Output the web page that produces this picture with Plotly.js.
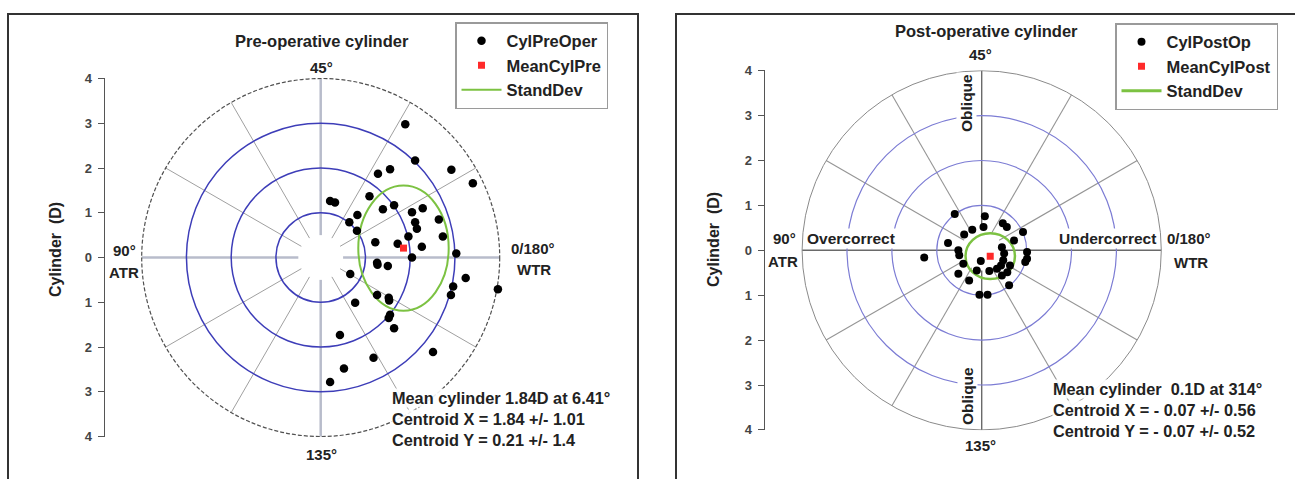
<!DOCTYPE html>
<html>
<head>
<meta charset="utf-8">
<script src="https://cdn.plot.ly/plotly-3.0.1.min.js"></script>
<style>html,body{margin:0;padding:0;background:#fff;}#chart{width:1295px;height:479px;}</style>
</head>
<body>
<div id="chart"></div>
<script>
// ---------------- DATA ----------------
// Pre-operative cylinder (double-angle plot, dioptres)
const preX = [1.89,2.11,2.92,3.40,1.28,1.55,1.09,0.21,0.32,0.82,1.39,1.64,2.04,2.28,0.64,2.11,2.15,2.64,0.81,2.73,1.96,1.22,1.72,2.26,2.04,3.03,1.26,1.27,1.50,0.66,3.24,2.96,2.91,3.96,1.26,1.52,1.53,0.77,1.52,1.55,1.64,0.43,2.51,1.18,0.52,0.21];
const preY = [2.98,2.17,1.96,1.66,1.87,1.97,1.37,1.26,1.23,0.95,1.08,1.17,1.01,1.10,0.79,0.79,0.64,0.85,0.60,0.47,0.47,0.34,0.31,0.24,0.00,0.09,-0.12,-0.16,-0.19,-0.37,-0.46,-0.65,-0.84,-0.71,-0.84,-0.90,-0.96,-1.01,-1.35,-1.28,-1.58,-1.73,-2.11,-2.24,-2.48,-2.78];
const preMeanX = [1.85];
const preMeanY = [0.21];
const preSdX = [1.01];
const preSdY = [1.40];

// Post-operative cylinder
const postX = [-0.60,0.07,0.04,-0.21,-0.39,0.47,0.56,0.92,0.72,-0.75,-0.52,-0.50,-0.41,-0.52,-0.28,-0.11,-0.02,0.45,0.50,0.48,0.43,0.34,0.17,0.63,0.57,0.45,0.61,1.01,1.01,0.97,-0.05,0.13,-1.28];
const postY = [0.81,0.76,0.52,0.46,0.35,0.60,0.52,0.41,0.22,0.16,0.00,-0.11,-0.30,-0.52,-0.67,-0.45,-0.24,0.07,-0.07,-0.22,-0.34,-0.41,-0.46,-0.34,-0.49,-0.56,-0.78,-0.04,-0.19,-0.26,-0.99,-0.99,-0.16];
const postMeanX = [0.19];
const postMeanY = [-0.13];
const postSdX = [0.55];
const postSdY = [0.51];

// Axis / grid definitions
const tickVals = [-4,-3,-2,-1,0,1,2,3,4];
const tickText = ['4','3','2','1','0','1','2','3','4'];
const yLimit = 4;
const ringRadii = [1,2,3];
const outerRadius = [4];
const spokeAngles = [0,30,60,90,120,150,180,210,240,270,300,330];

// Text
const preStats = ['Mean cylinder 1.84D at 6.41°','Centroid X = 1.84 +/- 1.01','Centroid Y = 0.21 +/- 1.4'];
const postStats = ['Mean cylinder  0.1D at 314°','Centroid X = - 0.07 +/- 0.56','Centroid Y = - 0.07 +/- 0.52'];

// ---------------- LAYOUT HELPERS ----------------
const W = 1295, H = 479;
const FONT = 'Liberation Sans, Arial, sans-serif';
const px = v => v / W;
const py = v => (H - v) / H;
const F = (size, extra) => Object.assign({ family: FONT, size: size, color: '#222', weight: 'bold' }, extra || {});

function axesFor(cx, cy, s, xl, xr) {
  const lim = yLimit + 0.01;
  const yt = cy - lim * s, yb = cy + lim * s;
  return {
    x: { domain: [px(xl), px(xr)], range: [(xl - cx) / s, (xr - cx) / s], visible: false, fixedrange: true },
    y: { domain: [py(yb), py(yt)], range: [-lim, lim], fixedrange: true,
         tickvals: tickVals, ticktext: tickText, showline: true, linecolor: '#555', linewidth: 1.5,
         ticks: 'outside', ticklen: 6, tickcolor: '#555', showgrid: false, zeroline: false,
         ticklabelstandoff: 3,
         tickfont: F(13, { color: '#444' }) }
  };
}

const A1 = axesFor(320.7, 257.5, 44.75, 105, 632);
const A2 = axesFor(981.7, 250.3, 44.9, 765, 1290);

const shapes = [];
function ring(xr, yr, r, line) {
  shapes.push({ type: 'circle', xref: xr, yref: yr, x0: -r, x1: r, y0: -r, y1: r, line: line, layer: 'below' });
}
function spokes(xr, yr, r0, r1, thin, thick) {
  spokeAngles.forEach(a => {
    const t = a * Math.PI / 180;
    const cardinal = a % 90 === 0;
    shapes.push({ type: 'line', xref: xr, yref: yr,
      x0: r0 * Math.cos(t), y0: r0 * Math.sin(t), x1: r1 * Math.cos(t), y1: r1 * Math.sin(t),
      line: cardinal ? thick : thin, layer: 'below' });
  });
}
function ellipse(xr, yr, cx, cy, sx, sy, w) {
  shapes.push({ type: 'circle', xref: xr, yref: yr, x0: cx - sx, x1: cx + sx, y0: cy - sy, y1: cy + sy,
    line: { color: '#7cc242', width: w }, layer: 'below' });
}

// Left panel grid
spokes('x', 'y', 0.5, outerRadius[0], { color: '#a0a0a0', width: 1 }, { color: '#b8bccb', width: 2.5 });
ringRadii.forEach(r => ring('x', 'y', r, { color: '#3d3db8', width: 1.5 }));
outerRadius.forEach(r => ring('x', 'y', r, { color: '#505050', width: 1.2, dash: '4px,2px' }));
ellipse('x', 'y', preMeanX[0], preMeanY[0], preSdX[0], preSdY[0], 2);

// Right panel grid
spokes('x2', 'y2', 0.45, outerRadius[0], { color: '#959595', width: 1.1 }, { color: '#6a6a6a', width: 1.4 });
ringRadii.forEach(r => ring('x2', 'y2', r, { color: '#7c7cd4', width: 1.2 }));
outerRadius.forEach(r => ring('x2', 'y2', r, { color: '#8a8a8a', width: 1 }));
ellipse('x2', 'y2', postMeanX[0], postMeanY[0], postSdX[0], postSdY[0], 2.5);

// Panel frames
shapes.push({ type: 'rect', xref: 'paper', yref: 'paper', x0: px(8), x1: px(638), y0: py(490), y1: py(14), line: { color: '#333', width: 2 } });
shapes.push({ type: 'rect', xref: 'paper', yref: 'paper', x0: px(676), x1: px(1300), y0: py(490), y1: py(14), line: { color: '#333', width: 2 } });

// ---------------- ANNOTATIONS ----------------
const ann = [];
function txt(text, x, y, opts) {
  ann.push(Object.assign({ text: text, xref: 'paper', yref: 'paper', x: px(x), y: py(y), showarrow: false,
    xanchor: 'center', yanchor: 'middle', font: F(15) }, opts || {}));
}
// left
txt('Pre-operative cylinder', 322, 41, { font: F(16.5) });
txt('45°', 321, 67);
txt('135°', 321, 454);
txt('90°', 124, 250);
txt('ATR', 124, 272);
txt('0/180°', 533, 248);
txt('WTR', 534, 270);
txt('Cylinder  (D)', 55, 250, { textangle: -90, font: F(16) });
preStats.forEach((s, i) => txt(s, 391, 398 + i * 21, { xanchor: 'left', bgcolor: 'rgba(255,255,255,0.9)', borderpad: 0, font: F(16.3) }));
// right
txt('Post-operative cylinder', 986, 31, { font: F(16.5) });
txt('45°', 980, 55);
txt('135°', 980, 445);
txt('90°', 784, 238);
txt('ATR', 783, 261);
txt('0/180°', 1189, 238);
txt('WTR', 1191, 262);
txt('Overcorrect', 851, 238, { bgcolor: '#fff', borderpad: 1, font: F(15.5) });
txt('Undercorrect', 1107, 238, { bgcolor: '#fff', borderpad: 1, font: F(15.5) });
txt('Oblique', 967, 103, { textangle: -90, bgcolor: '#fff', borderpad: 1, font: F(15.5) });
txt('Oblique', 967, 396, { textangle: -90, bgcolor: '#fff', borderpad: 1, font: F(15.5) });
txt('Cylinder  (D)', 713, 240, { textangle: -90, font: F(16) });
postStats.forEach((s, i) => txt(s, 1052, 389 + i * 21, { xanchor: 'left', bgcolor: 'rgba(255,255,255,0.9)', borderpad: 0, font: F(16.3) }));

// ---------------- TRACES ----------------
const traces = [
  { type: 'scatter', mode: 'markers', x: preX, y: preY, xaxis: 'x', yaxis: 'y', name: 'CylPreOper', legend: 'legend',
    marker: { color: '#000', size: 8.5 }, cliponaxis: false, hoverinfo: 'skip' },
  { type: 'scatter', mode: 'markers', x: preMeanX, y: preMeanY, xaxis: 'x', yaxis: 'y', name: 'MeanCylPre', legend: 'legend',
    marker: { color: '#ff2a2a', size: 7, symbol: 'square' }, hoverinfo: 'skip' },
  { type: 'scatter', mode: 'lines', x: [null], y: [null], xaxis: 'x', yaxis: 'y', name: 'StandDev', legend: 'legend',
    line: { color: '#7cc242', width: 2 }, hoverinfo: 'skip' },
  { type: 'scatter', mode: 'markers', x: postX, y: postY, xaxis: 'x2', yaxis: 'y2', name: 'CylPostOp', legend: 'legend2',
    marker: { color: '#000', size: 8 }, cliponaxis: false, hoverinfo: 'skip' },
  { type: 'scatter', mode: 'markers', x: postMeanX, y: postMeanY, xaxis: 'x2', yaxis: 'y2', name: 'MeanCylPost', legend: 'legend2',
    marker: { color: '#ff2a2a', size: 7, symbol: 'square' }, hoverinfo: 'skip' },
  { type: 'scatter', mode: 'lines', x: [null], y: [null], xaxis: 'x2', yaxis: 'y2', name: 'StandDev', legend: 'legend2',
    line: { color: '#7cc242', width: 3 }, hoverinfo: 'skip' }
];

const legendStyle = {
  bgcolor: '#fff', bordercolor: '#9a9a9a', borderwidth: 1.5,
  font: F(16.5),
  xanchor: 'left', yanchor: 'top', itemwidth: 40, tracegroupgap: 0
};

const layout = {
  width: W, height: H, margin: { l: 0, r: 0, t: 0, b: 0 },
  paper_bgcolor: '#fff', plot_bgcolor: 'rgba(0,0,0,0)',
  showlegend: true,
  xaxis: A1.x, yaxis: Object.assign({ anchor: 'x' }, A1.y),
  xaxis2: Object.assign({ anchor: 'y2' }, A2.x), yaxis2: Object.assign({ anchor: 'x2' }, A2.y),
  legend: Object.assign({ x: px(455), y: py(22) }, legendStyle),
  legend2: Object.assign({ x: px(1115), y: py(23) }, legendStyle),
  shapes: shapes,
  annotations: ann
};

Plotly.newPlot('chart', traces, layout, { displayModeBar: false, staticPlot: true });
</script>
</body>
</html>
